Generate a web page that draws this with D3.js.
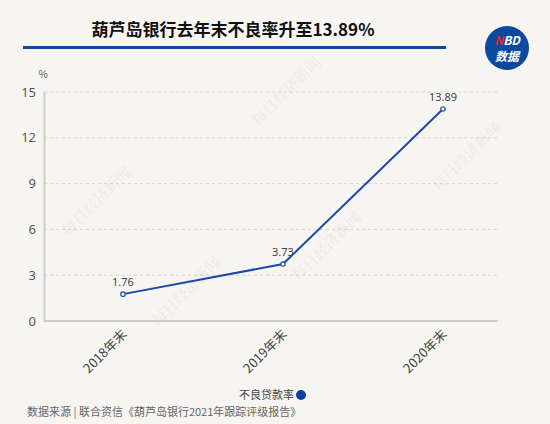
<!DOCTYPE html>
<html>
<head>
<meta charset="utf-8">
<script src="https://cdn.jsdelivr.net/npm/d3@7"></script>
<style>
  body { margin: 0; background: #f7f5f1; }
  text { font-family: "Noto Sans CJK SC", "Noto Sans", sans-serif; }
</style>
</head>
<body>
<div id="chart"></div>
<script>
// Data
let categories = ['2018年末', '2019年末', '2020年末'];
let nplRatio = [1.76, 3.73, 13.89];
let yTicks = [0, 3, 6, 9, 12, 15];
let seriesName = '不良贷款率';
let title = '葫芦岛银行去年末不良率升至13.89%';
let source = '数据来源 | 联合资信《葫芦岛银行2021年跟踪评级报告》';

// Dimensions
let W = 550, H = 424;
let plot = { left: 44, right: 498, top: 92, bottom: 321 };
let blue = '#1e48a8';

let svg = d3.select('#chart')
  .append('svg')
  .attr('width', W)
  .attr('height', H);

svg.append('rect').attr('width', W).attr('height', H).attr('fill', '#f7f5f1');

// Watermarks
let wm = [[100, 205], [290, 95], [330, 250], [470, 160], [190, 295]];
svg.selectAll('.wm')
  .data(wm)
  .enter()
  .append('text')
  .attr('transform', d => `translate(${d[0]},${d[1]}) rotate(-45)`)
  .attr('text-anchor', 'middle')
  .attr('font-size', 15)
  .attr('fill', '#000')
  .attr('opacity', 0.05)
  .style('font-family', '"Noto Serif CJK SC", "Noto Sans CJK SC", serif')
  .text('每日经济新闻');

// Header
svg.append('text')
  .attr('x', 233)
  .attr('y', 36)
  .attr('text-anchor', 'middle')
  .attr('font-size', 17)
  .attr('font-weight', 'bold')
  .attr('fill', '#111')
  .text(title);
svg.append('rect')
  .attr('x', 23).attr('y', 46)
  .attr('width', 423).attr('height', 3)
  .attr('fill', '#0b4a9e');

// NBD badge
let badge = svg.append('g').attr('transform', 'translate(507,48)');
badge.append('circle').attr('r', 22).attr('fill', '#0b4a9e');
let nbd = badge.append('text')
  .attr('y', -3)
  .attr('text-anchor', 'middle')
  .attr('font-size', 12)
  .attr('font-weight', 'bold')
  .attr('font-style', 'italic')
  .attr('fill', '#fff');
nbd.append('tspan').attr('fill', '#e8222d').text('N');
nbd.append('tspan').text('BD');
badge.append('text')
  .attr('y', 13)
  .attr('text-anchor', 'middle')
  .attr('font-size', 12)
  .attr('font-weight', 'bold')
  .attr('font-style', 'italic')
  .attr('fill', '#fff')
  .text('数据');

// Scales
let x = d3.scalePoint()
  .domain(categories)
  .range([123, 443]);
let y = d3.scaleLinear()
  .domain([0, 15])
  .range([plot.bottom, plot.top]);

// Grid
svg.append('g')
  .selectAll('line')
  .data(yTicks.filter(d => d > 0))
  .enter()
  .append('line')
  .attr('x1', plot.left)
  .attr('x2', plot.right)
  .attr('y1', d => y(d))
  .attr('y2', d => y(d))
  .attr('stroke', '#d6d3ce')
  .attr('stroke-dasharray', '3,3');

// Axes
let yAxis = svg.append('g')
  .attr('transform', `translate(${plot.left},0)`)
  .call(d3.axisLeft(y).tickValues(yTicks).tickSize(0).tickPadding(8));
yAxis.select('.domain').attr('stroke', '#cfccc7').attr('stroke-width', 2);
yAxis.selectAll('text').attr('font-size', 13).attr('fill', '#555')
  .style('font-family', '"Noto Sans", sans-serif');

svg.append('line')
  .attr('x1', plot.left).attr('x2', plot.right)
  .attr('y1', plot.bottom).attr('y2', plot.bottom)
  .attr('stroke', '#cfccc7').attr('stroke-width', 2);

let xAxis = svg.append('g')
  .attr('transform', `translate(0,${plot.bottom})`)
  .call(d3.axisBottom(x).tickSize(0));
xAxis.select('.domain').remove();
xAxis.selectAll('text')
  .attr('font-size', 13)
  .attr('fill', '#444')
  .attr('text-anchor', 'end')
  .attr('dy', 0)
  .attr('transform', 'translate(2,12) rotate(-45)');

svg.append('text')
  .attr('x', 43).attr('y', 78)
  .attr('text-anchor', 'middle')
  .attr('font-size', 10)
  .attr('fill', '#555')
  .text('%');

// Line
let pts = categories.map((c, i) => [c, nplRatio[i]]);
svg.append('path')
  .datum(pts)
  .attr('fill', 'none')
  .attr('stroke', blue)
  .attr('stroke-width', 2)
  .attr('d', d3.line().x(d => x(d[0])).y(d => y(d[1])));

svg.selectAll('.pt')
  .data(pts)
  .enter()
  .append('circle')
  .attr('cx', d => x(d[0]))
  .attr('cy', d => y(d[1]))
  .attr('r', 2.2)
  .attr('fill', '#fff')
  .attr('stroke', blue)
  .attr('stroke-width', 1.2);

svg.selectAll('.lbl')
  .data(pts)
  .enter()
  .append('text')
  .attr('x', d => x(d[0]))
  .attr('y', d => y(d[1]) - 8)
  .attr('text-anchor', 'middle')
  .attr('font-size', 11)
  .attr('fill', '#444')
  .style('font-family', '"Noto Sans", sans-serif')
  .text(d => d[1].toFixed(2));

// Legend
svg.append('text')
  .attr('x', 294).attr('y', 399)
  .attr('text-anchor', 'end')
  .attr('font-size', 11)
  .attr('fill', '#444')
  .text(seriesName);
svg.append('circle')
  .attr('cx', 301).attr('cy', 395)
  .attr('r', 5)
  .attr('fill', '#0b3fa6');

// Source
svg.append('text')
  .attr('x', 27).attr('y', 416)
  .attr('font-size', 11)
  .attr('fill', '#666')
  .text(source);
</script>
</body>
</html>
